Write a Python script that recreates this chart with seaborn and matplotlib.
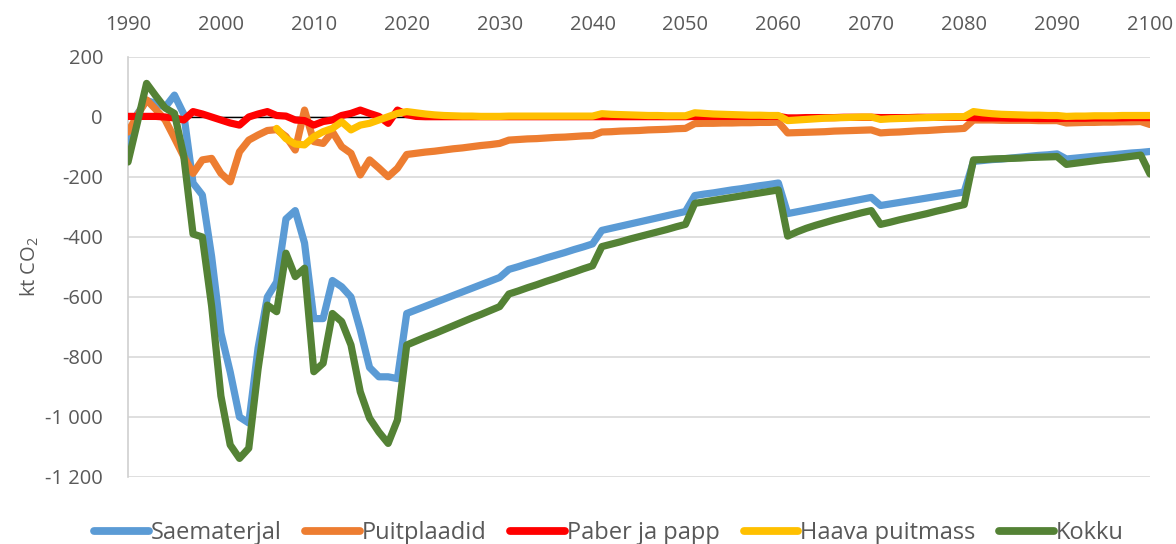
import numpy as np
import pandas as pd
import seaborn as sns
import matplotlib.pyplot as plt
from matplotlib.lines import Line2D

nan = np.nan

years = list(range(1990, 2101))

# values, kt CO2, one row per decade
saematerjal = [
    -90, 10, 55, 45, 33, 73, 10, -220, -260, -465,
    -720, -850, -1000, -1020, -770, -600, -550, -340, -312, -420,
    -672, -672, -545, -566, -600, -710, -835, -866, -866, -872,
    -655, -643, -631, -619, -607, -595, -583, -571, -559, -547,
    -535, -508, -499, -489, -480, -470, -461, -452, -442, -433,
    -423, -378, -371, -364, -357, -350, -343, -336, -329, -322,
    -315, -262, -257, -253, -248, -243, -239, -234, -229, -225,
    -220, -322, -316, -310, -304, -298, -292, -286, -280, -274,
    -268, -295, -290, -285, -280, -275, -270, -265, -260, -255,
    -250, -148, -145, -142, -140, -137, -134, -131, -128, -126,
    -123, -140, -137, -134, -131, -129, -126, -123, -120, -118,
    -115,
]
puitplaadid = [
    -50, 5, 57, 25, -10, -70, -132, -188, -143, -138,
    -188, -216, -116, -77, -60, -45, -42, -65, -110, 23,
    -82, -88, -49, -99, -121, -193, -143, -170, -199, -171,
    -125, -121, -117, -114, -110, -106, -103, -99, -95, -92,
    -88, -77, -75, -73, -72, -70, -68, -67, -65, -63,
    -62, -50, -49, -47, -46, -45, -43, -42, -41, -39,
    -38, -22, -21, -21, -20, -20, -19, -19, -18, -18,
    -17, -53, -52, -51, -50, -49, -47, -46, -45, -44,
    -43, -53, -51, -50, -48, -46, -45, -43, -41, -40,
    -38, -10, -10, -10, -11, -11, -11, -11, -12, -12,
    -12, -20, -19, -18, -18, -17, -17, -16, -16, -15,
    -25,
]
paber_papp = [
    2, 2, 2, 2, 0, -3, -10, 18, 10, 0,
    -10, -20, -27, 0, 10, 18, 5, 3, -10, -12,
    -27, -15, -10, 5, 12, 23, 12, 2, -21, 23,
    8, 2, 1, 1, 1, 1, 1, 1, 1, 1,
    1, 1, 1, 1, 1, 1, 1, 1, 1, 1,
    1, 1, 1, 1, 1, 1, 1, 1, 1, 1,
    1, 2, 2, 2, 2, 2, 2, 2, 2, 2,
    2, -3, -3, -2, -2, -2, -2, -1, -1, -1,
    -1, -2, -2, -2, -2, -1, -1, -1, -1, -1,
    -1, -2, -3, -3, -3, -4, -4, -4, -5, -5,
    -5, -4, -4, -4, -3, -3, -3, -3, -2, -2,
    -2,
]
haava_puitmass = [
    nan, nan, nan, nan, nan, nan, nan, nan, nan, nan,
    nan, nan, nan, nan, nan, nan, -38, -72, -90, -93,
    -66, -49, -38, -16, -43, -27, -21, -10, 1, 12,
    18, 14, 10, 7, 5, 4, 3, 3, 2, 2,
    2, 3, 3, 3, 3, 3, 3, 3, 3, 3,
    3, 11, 9, 8, 7, 6, 5, 5, 4, 4,
    4, 14, 12, 10, 9, 8, 7, 6, 6, 5,
    5, -12, -10, -8, -6, -4, -3, -2, -1, 0,
    0, -8, -6, -5, -4, -3, -2, -1, 0, 1,
    1, 18, 14, 11, 9, 8, 7, 6, 6, 5,
    5, 2, 3, 3, 4, 4, 4, 5, 5, 5,
    5,
]
kokku = [
    -150, -20, 112, 70, 30, 12, -130, -390, -400, -630,
    -930, -1093, -1138, -1104, -840, -627, -649, -454, -532, -504,
    -849, -821, -655, -682, -760, -916, -1004, -1050, -1088, -1010,
    -760, -747, -734, -722, -709, -696, -683, -670, -658, -645,
    -632, -590, -580, -569, -559, -548, -538, -527, -517, -506,
    -496, -432, -424, -416, -407, -399, -391, -383, -375, -366,
    -358, -288, -283, -278, -273, -268, -263, -258, -253, -248,
    -243, -397, -383, -371, -361, -352, -343, -335, -327, -319,
    -312, -358, -351, -343, -336, -329, -322, -314, -307, -299,
    -292, -143, -142, -140, -139, -138, -137, -135, -134, -133,
    -132, -158, -154, -150, -146, -142, -139, -135, -131, -127,
    -190,
]

series_names = ["Saematerjal", "Puitplaadid", "Paber ja papp", "Haava puitmass", "Kokku"]
series_colors = ["#5B9BD5", "#ED7D31", "#FF0000", "#FFC000", "#548235"]

x_ticks = list(range(1990, 2101, 10))
y_ticks = [200, 0, -200, -400, -600, -800, -1000, -1200]
y_tick_labels = ["200", "0", "-200", "-400", "-600", "-800", "-1 000", "-1 200"]

# long table for seaborn
frames = []
for name, vals in zip(series_names,
                      [saematerjal, puitplaadid, paber_papp, haava_puitmass, kokku]):
    frames.append(pd.DataFrame({"Aasta": years, "kt": vals, "Seeria": name}))
df = pd.concat(frames, ignore_index=True).dropna()

sns.set_style("white")
plt.rcParams['font.family'] = ['Open Sans', 'DejaVu Sans']
plt.rcParams['mathtext.fontset'] = 'custom'
plt.rcParams['mathtext.rm'] = 'Open Sans'
text_color = "#595959"

fig = plt.figure(figsize=(11.76, 5.44), dpi=100)
ax = fig.add_axes([128 / 1176, 1 - 477 / 544, (1150 - 128) / 1176, (477 - 57) / 544])

ax.axhline(0, color="black", linewidth=1, zorder=1)

sns.lineplot(
    data=df, x="Aasta", y="kt", hue="Seeria",
    hue_order=series_names, palette=dict(zip(series_names, series_colors)),
    linewidth=5.2, legend=False, sort=False, ax=ax,
    solid_joinstyle="round", solid_capstyle="round",
)
for ln in ax.lines[1:]:
    ln.set_zorder(3)

ax.set_xlim(1990, 2100)
ax.set_ylim(-1200, 200)
ax.set_xticks(x_ticks)
ax.set_xticklabels([str(t) for t in x_ticks])
ax.set_yticks(y_ticks)
ax.set_yticklabels(y_tick_labels)
ax.xaxis.tick_top()
ax.tick_params(axis="x", length=0, pad=16, labelsize=14.5, labelcolor=text_color)
ax.tick_params(axis="y", length=0, pad=18, labelsize=14.5, labelcolor=text_color)

ax.set_xlabel("")
ax.set_ylabel("kt CO$_2$", fontsize=14.5, color=text_color, labelpad=3)

ax.yaxis.grid(True, color="#D9D9D9", linewidth=1.2)
ax.xaxis.grid(False)
for side in ["top", "right", "bottom"]:
    ax.spines[side].set_visible(False)
ax.spines["left"].set_color("#D0D0D0")
ax.spines["left"].set_linewidth(1.2)

handles = [Line2D([0], [0], color=c, linewidth=5.6, solid_capstyle="round")
           for c in series_colors]
leg = fig.legend(handles, series_names, loc="center",
                 bbox_to_anchor=(609 / 1176, 1 - 533 / 544), ncol=5,
                 frameon=False, fontsize=17, handlelength=2.3,
                 handletextpad=0.1, columnspacing=1.0, borderaxespad=0)
for t in leg.get_texts():
    t.set_color(text_color)

fig.savefig("out.png", dpi=100)
